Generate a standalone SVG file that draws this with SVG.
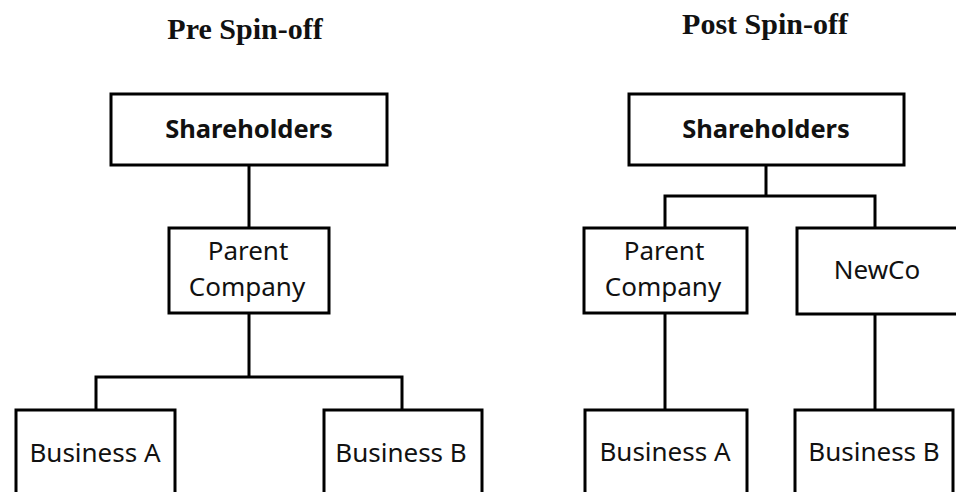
<svg xmlns="http://www.w3.org/2000/svg" width="956" height="492" viewBox="0 0 956 492">
<style>
.box{fill:#fff;stroke:#000;stroke-width:3}
.ln{fill:none;stroke:#000;stroke-width:3}
.t{font-family:"Noto Sans","Open Sans",sans-serif;font-size:26px;fill:#111;text-anchor:middle}
.b{font-weight:bold;font-size:25.5px}
.title{font-family:"Liberation Serif","Times New Roman",serif;font-weight:bold;font-size:30px;fill:#111;text-anchor:middle}
</style>
<rect width="956" height="492" fill="#fff"/>
<text class="title" x="245" y="39">Pre Spin-off</text>
<text class="title" x="765" y="34">Post Spin-off</text>
<g id="connectors">
<path class="ln" d="M249,165V228"/>
<path class="ln" d="M249,313V377M96,410V377H402V410"/>
<path class="ln" d="M766,165V196M665,228V196H875V228"/>
<path class="ln" d="M665,313V410"/>
<path class="ln" d="M875,314V410"/>
</g>
<g id="pre-shareholders"><rect class="box" x="111" y="94" width="276" height="71"/><text class="t b" x="249" y="138">Shareholders</text></g>
<g id="pre-parent"><rect class="box" x="169" y="228" width="160" height="85"/><text class="t" x="248" y="260">Parent</text><text class="t" x="247" y="296">Company</text></g>
<g id="pre-business-a"><rect class="box" x="16" y="410" width="159" height="100"/><text class="t" x="95" y="462">Business A</text></g>
<g id="pre-business-b"><rect class="box" x="324" y="410" width="158" height="100"/><text class="t" x="401" y="462">Business B</text></g>
<g id="post-shareholders"><rect class="box" x="629" y="94" width="275" height="71"/><text class="t b" x="766" y="138">Shareholders</text></g>
<g id="post-parent"><rect class="box" x="584" y="228" width="163" height="85"/><text class="t" x="664" y="260">Parent</text><text class="t" x="663" y="296">Company</text></g>
<g id="post-newco"><rect class="box" x="797" y="228" width="170" height="86"/><text class="t" x="877" y="279">NewCo</text></g>
<g id="post-business-a"><rect class="box" x="585" y="410" width="162" height="100"/><text class="t" x="665" y="461">Business A</text></g>
<g id="post-business-b"><rect class="box" x="795" y="410" width="158" height="100"/><text class="t" x="874" y="461">Business B</text></g>
</svg>
